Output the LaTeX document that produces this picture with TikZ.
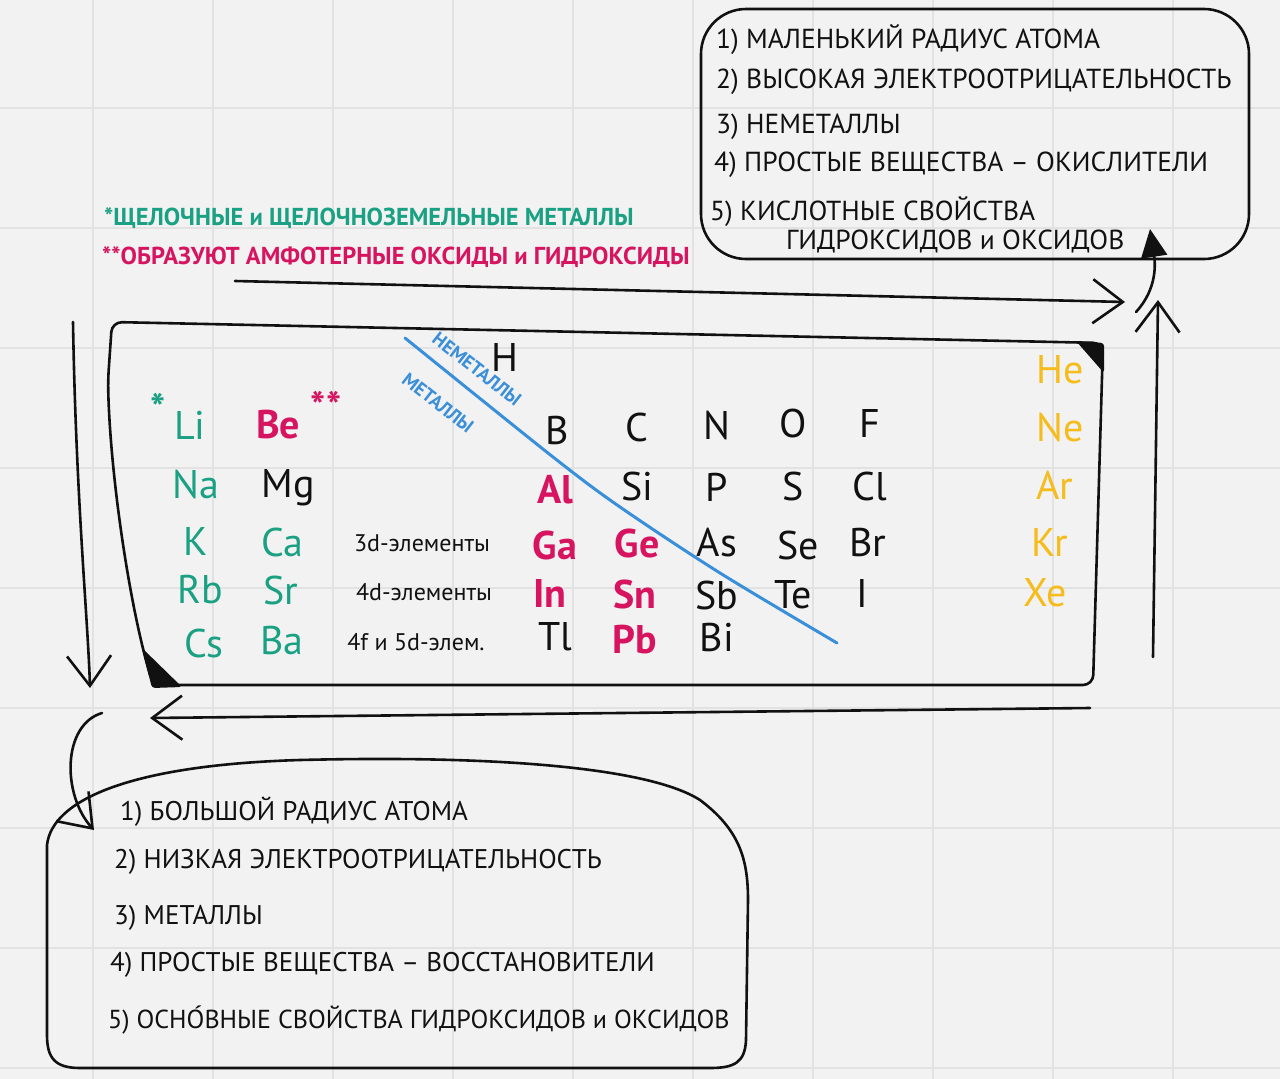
\documentclass[tikz,border=0pt]{standalone}
\usepackage{fontspec}
\setmainfont{PT Sans}
\usetikzlibrary{arrows.meta}
\definecolor{bg}{HTML}{F2F2F2}
\definecolor{gridc}{HTML}{E2E2E2}
\definecolor{ink}{HTML}{111111}
\definecolor{grn}{HTML}{1AA082}
\definecolor{mag}{HTML}{D6145F}
\definecolor{ylw}{HTML}{F5BC1C}
\definecolor{blu}{HTML}{3A8FDA}
\begin{document}
\begin{tikzpicture}[x=1pt,y=-1pt,
  sk/.style={draw=ink, line width=2.6pt, line cap=round, line join=round},
  arr/.style={sk, -{Straight Barb[length=30pt,width=44pt]}},
  el/.style={inner sep=0pt, font=\fontsize{40}{44}\selectfont, text=ink},
  elg/.style={el, text=grn},
  elm/.style={el, text=mag, font=\fontsize{40}{44}\selectfont\bfseries},
  ely/.style={el, text=ylw},
  dsub/.style={inner sep=0pt, anchor=center, font=\fontsize{24}{28}\selectfont, text=ink},
  bt/.style={inner sep=0pt, anchor=west, font=\fontsize{27.5}{32}\selectfont, text=ink},
  bb/.style={bt, font=\fontsize{27}{32}\selectfont},
  note/.style={inner sep=0pt, anchor=west, font=\fontsize{24.5}{28}\selectfont\bfseries},
  star/.style={inner sep=0pt, font=\fontsize{40}{44}\selectfont\bfseries},
  lbl/.style={inner sep=0pt, text=blu, font=\fontsize{19}{22}\selectfont\bfseries}]
\useasboundingbox (0,0) rectangle (1280,1079);
\fill[bg] (0,0) rectangle (1280,1079);
\foreach \gx in {93,213,...,1253} \draw[gridc, line width=1.3pt] (\gx,0) -- (\gx,1079);
\foreach \gy in {108,228,...,1068} \draw[gridc, line width=1.3pt] (0,\gy) -- (1280,\gy);

% ---------- top box (non-metal properties)
\node[sk, rounded corners=45pt, minimum width=548pt, minimum height=250pt, inner sep=0pt] (acid) at (975,134) {};
\node[bt] (p1) at (716,40) {1) МАЛЕНЬКИЙ РАДИУС АТОМА};
\node[bt] (p2) at (716,82) {2) ВЫСОКАЯ ЭЛЕКТРООТРИЦАТЕЛЬНОСТЬ};
\node[bt] (p3) at (716,127) {3) НЕМЕТАЛЛЫ};
\node[bt] (p4) at (714,165) {4) ПРОСТЫЕ ВЕЩЕСТВА – ОКИСЛИТЕЛИ};
\node[bt] (p5) at (710,212) {5) КИСЛОТНЫЕ СВОЙСТВА};
\node[bt] (p6) at (786,241) {ГИДРОКСИДОВ и ОКСИДОВ};

% ---------- notes
\node[note, text=grn] (n1) at (104,218) {*ЩЕЛОЧНЫЕ и ЩЕЛОЧНОЗЕМЕЛЬНЫЕ МЕТАЛЛЫ};
\node[note, text=mag] (n2) at (102,257) {**ОБРАЗУЮТ АМФОТЕРНЫЕ ОКСИДЫ и ГИДРОКСИДЫ};

% ---------- table frame
\draw[sk, rounded corners=10pt] (153,685) .. controls (128,600) and (110,470) .. (108,380)
  -- (112,322) -- (1103,343) -- (1093,685) -- cycle;
\fill[ink, rounded corners=3pt] (1076,341) -- (1104,343) -- (1104,373) -- cycle;
\fill[ink, rounded corners=3pt] (142,648) -- (182,687) -- (152,688) -- cycle;

% ---------- metal / non-metal border
\draw[blu, line width=3pt, line cap=round] plot[smooth] coordinates {(405,338) (553,457) (620,507) (720,573) (837,643)};
\node[lbl, rotate=-38] (nm) at (477,369) {НЕМЕТАЛЛЫ};
\node[lbl, rotate=-38] (mt) at (438,403) {МЕТАЛЛЫ};

% ---------- elements
\node[el] (H) at (505,357) {H};
\node[star, text=grn] (st1) at (158,408) {*};
\node[star, text=mag] (st2) at (326,406) {**};
\node[elg] (Li) at (190,425) {Li};
\node[elm] (Be) at (278,425) {Be};
\node[elg] (Na) at (196,484) {Na};
\node[el]  (Mg) at (288,488) {Mg};
\node[elg] (K)  at (196,541) {K};
\node[elg] (Ca) at (282,542) {Ca};
\node[dsub] (d3) at (422,543) {3d-элементы};
\node[elg] (Rb) at (200,590) {Rb};
\node[elg] (Sr) at (281,590) {Sr};
\node[dsub] (d4) at (424,592) {4d-элементы};
\node[elg] (Cs) at (204,643) {Cs};
\node[elg] (Ba) at (282,640) {Ba};
\node[dsub] (d5) at (416,642) {4f и 5d-элем.};

\node[el] (B) at (557,430) {B};
\node[el] (C) at (637,427) {C};
\node[el] (N) at (717,425) {N};
\node[el] (O) at (793,423) {O};
\node[el] (F) at (870,423) {F};
\node[elm] (Al) at (555,490) {Al};
\node[el] (Si) at (637,486) {Si};
\node[el] (P)  at (717,487) {P};
\node[el] (S)  at (793,486) {S};
\node[el] (Cl) at (870,486) {Cl};
\node[elm] (Ga) at (555,545) {Ga};
\node[elm] (Ge) at (637,543) {Ge};
\node[el] (As) at (717,543) {As};
\node[el] (Se) at (798,545) {Se};
\node[el] (Br) at (868,542) {Br};
\node[elm] (In) at (550,593) {In};
\node[elm] (Sn) at (635,594) {Sn};
\node[el] (Sb) at (717,595) {Sb};
\node[el] (Te) at (793,595) {Te};
\node[el] (I)  at (862,593) {I};
\node[el] (Tl) at (555,637) {Tl};
\node[elm] (Pb) at (635,640) {Pb};
\node[el] (Bi) at (717,637) {Bi};

\node[ely] (He) at (1060,370) {He};
\node[ely] (Ne) at (1060,428) {Ne};
\node[ely] (Ar) at (1055,485) {Ar};
\node[ely] (Kr) at (1050,542) {Kr};
\node[ely] (Xe) at (1045,593) {Xe};

% ---------- bottom box (metal properties)
\draw[sk] (47,1035) -- (47,845) .. controls (52,800) and (130,765) .. (300,760)
  .. controls (500,755) and (650,768) .. (700,800) .. controls (740,830) and (748,860) .. (748,900)
  -- (746,1040) .. controls (745,1062) and (735,1068) .. (710,1068) -- (80,1068)
  .. controls (55,1068) and (47,1058) .. (47,1035);
\node[bb] (m1) at (120,812) {1) БОЛЬШОЙ РАДИУС АТОМА};
\node[bb] (m2) at (114,862) {2) НИЗКАЯ ЭЛЕКТРООТРИЦАТЕЛЬНОСТЬ};
\node[bb] (m3) at (114,918) {3) МЕТАЛЛЫ};
\node[bb] (m4) at (110,965) {4) ПРОСТЫЕ ВЕЩЕСТВА – ВОССТАНОВИТЕЛИ};
\node[bb, font=\fontsize{26}{30}\selectfont] (m5) at (108,1020) {5) ОСНО́ВНЫЕ СВОЙСТВА ГИДРОКСИДОВ и ОКСИДОВ};

% ---------- arrows
\coordinate (a1s) at (235,281);
\coordinate (a1e) at (1125,302);
\draw[arr] (a1s) -- (a1e);
\coordinate (r1s) at (1153,657);
\coordinate (r1e) at (1158,300);
\draw[arr] (r1s) -- (r1e);
\coordinate (c1s) at (1136,312);
\coordinate (c1e) at (1150,229);
\draw[sk, -{Triangle[length=28pt,width=26pt]}] (c1s) .. controls (1158,288) and (1155,262) .. (c1e);
\coordinate (b1s) at (1090,708);
\coordinate (b1e) at (150,718);
\draw[arr] (b1s) -- (b1e);
\coordinate (l1s) at (73,322);
\coordinate (l1e) at (90,688);
\draw[arr] (l1s) .. controls (76,500) and (88,620) .. (l1e);
\coordinate (d1s) at (102,713);
\coordinate (d1e) at (94,830);
\draw[arr] (d1s) .. controls (62,725) and (62,795) .. (d1e);
\end{tikzpicture}
\end{document}
